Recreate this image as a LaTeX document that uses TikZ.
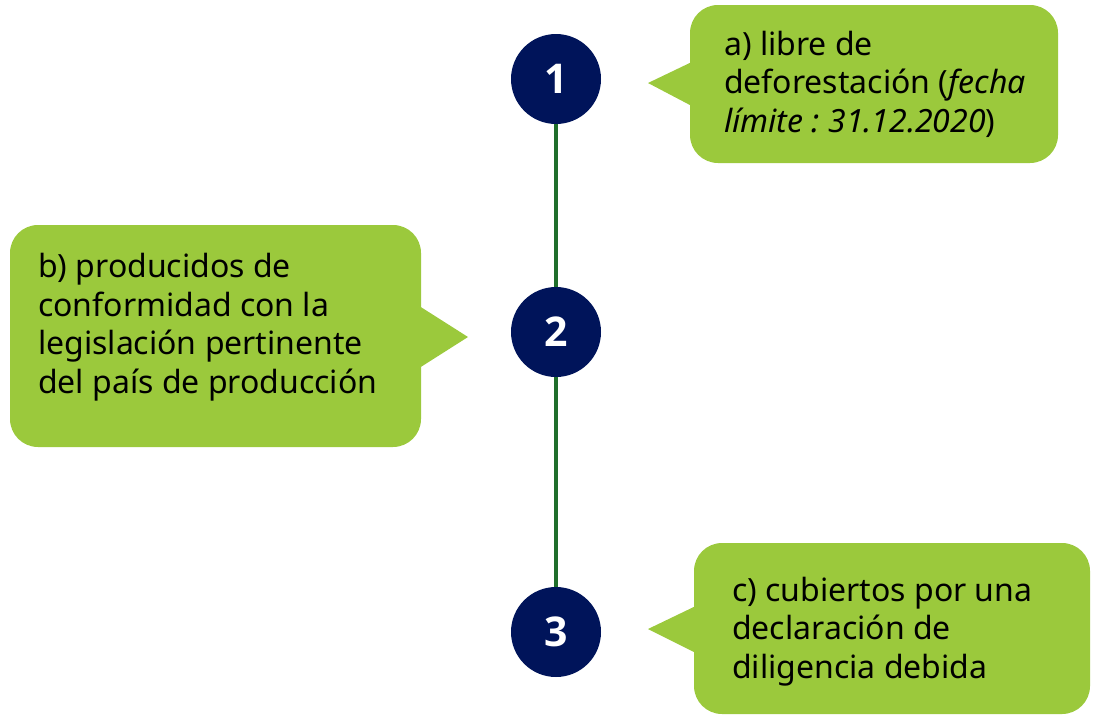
\documentclass[tikz,border=0pt]{standalone}
\usepackage{fontspec}
\setmainfont{Noto Sans}
\newfontfamily\numfont{Open Sans}
\usetikzlibrary{positioning}
\definecolor{navy}{RGB}{0,20,90}
\definecolor{leaf}{RGB}{155,201,60}
\definecolor{stemgreen}{RGB}{31,110,43}
\frenchspacing
\begin{document}
\begin{tikzpicture}[
  x = 1pt, y = 1pt,
  step node/.style = {circle, fill = navy, text = white, minimum size = 90pt,
                      inner sep = 0pt, font = \numfont\bfseries\fontsize{41}{41}\selectfont},
  bubble/.style = {fill = leaf, rounded corners = 28pt, inner sep = 0pt},
  pointer/.style = {fill = leaf},
  bubble text/.style = {anchor = base west, align = left, inner sep = 0pt,
                        font = \fontsize{32}{38.5}\selectfont},
  stem/.style = {draw = stemgreen, line width = 3.5pt},
  ]
  \useasboundingbox (0,0) rectangle (1094,-715);
  % timeline
  \node[step node] (n1) at (556,-79) {1};
  \node[step node] (n2) at (556,-332) {2};
  \node[step node] (n3) at (556,-632) {3};
  \draw[stem] (n1) -- (n2);
  \draw[stem] (n2) -- (n3);
  % bubbles
  \node[bubble, minimum width = 368pt, minimum height = 158pt] (ba) at (874,-84) {};
  \node[bubble, minimum width = 411pt, minimum height = 222pt] (bb) at (215.5,-336) {};
  \node[bubble, minimum width = 396pt, minimum height = 171pt] (bc) at (892,-628.5) {};
  \coordinate (ta) at (648,-83);
  \coordinate (tb) at (468,-337);
  \coordinate (tc) at (648,-629);
  \fill[pointer] ([xshift = 2pt]ba.west |- 0,-62) -- (ta) -- ([xshift = 2pt]ba.west |- 0,-106) -- cycle;
  \fill[pointer] ([xshift = -2pt]bb.east |- 0,-306) -- (tb) -- ([xshift = -2pt]bb.east |- 0,-368) -- cycle;
  \fill[pointer] ([xshift = 2pt]bc.west |- 0,-606) -- (tc) -- ([xshift = 2pt]bc.west |- 0,-653) -- cycle;
  % texts (anchored at the last baseline)
  \node[bubble text] (la) at (724,-132)
    {a) libre de\\deforestación (\textit{fecha}\\\textit{límite : 31.12.2020})};
  \node[bubble text] (lb) at (38,-393)
    {b) producidos de\\conformidad con la\\legislación pertinente\\del país de producción};
  \node[bubble text] (lc) at (732,-678)
    {c) cubiertos por una\\declaración de\\diligencia debida};
\end{tikzpicture}
\end{document}
